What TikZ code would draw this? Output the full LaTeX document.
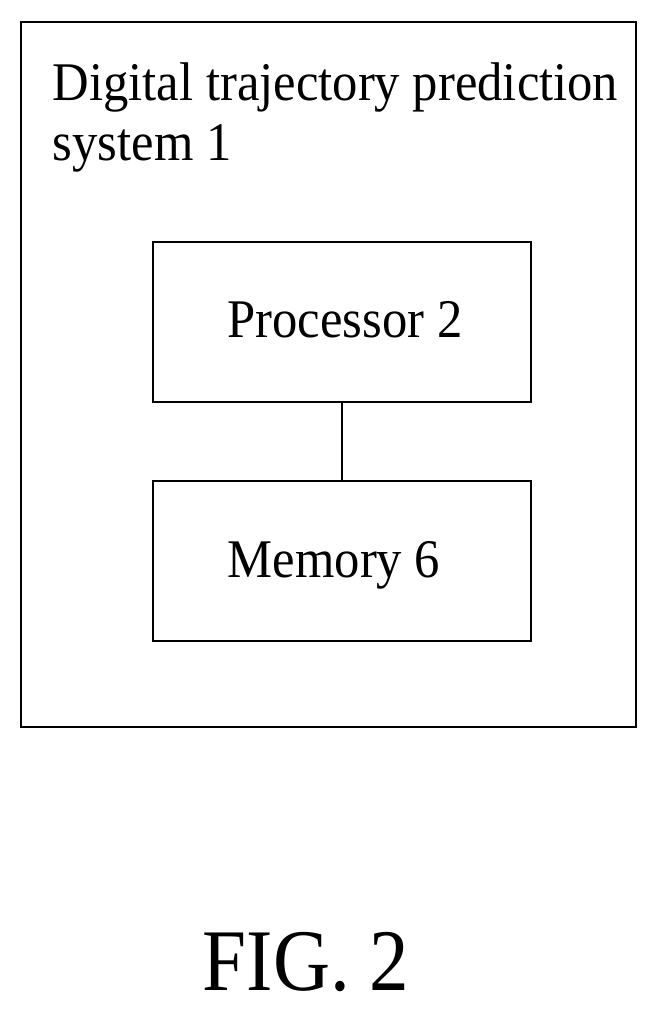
\documentclass[tikz,border=0pt]{standalone}
\usepackage{fontspec}
\setmainfont{Liberation Serif}
\usetikzlibrary{positioning}
\tikzset{
  blk/.style={draw, line width=1.2pt, minimum width=7.56cm, minimum height=3.2cm},
  lbl/.style={font=\fontsize{31}{36}\selectfont, xscale=0.93, transform shape}
}
\begin{document}
\begin{tikzpicture}[x=0.02cm, y=-0.02cm]
    \useasboundingbox (0,0) rectangle (657,1015);
    % system box
    \draw[line width=1.2pt] (21,22) rectangle (636,727);
    \node[lbl, anchor=base west] (title1) at (47,100) {Digital trajectory prediction};
    \node[lbl, anchor=base west] (title2) at (47,160) {system 1};

    % blocks
    \node[blk] (proc) at (342,322) {};
    \node[lbl, anchor=base] at (345,337) {Processor 2};
    \node[blk] (mem) at (342,561) {};
    \node[lbl, anchor=base] at (334,577) {Memory 6};
    \draw[line width=1.2pt] (proc) -- (mem);

    % caption
    \node[anchor=base, font=\fontsize{50}{56}\selectfont, xscale=0.9, transform shape] (fig) at (306,990) {FIG. 2};
\end{tikzpicture}
\end{document}
